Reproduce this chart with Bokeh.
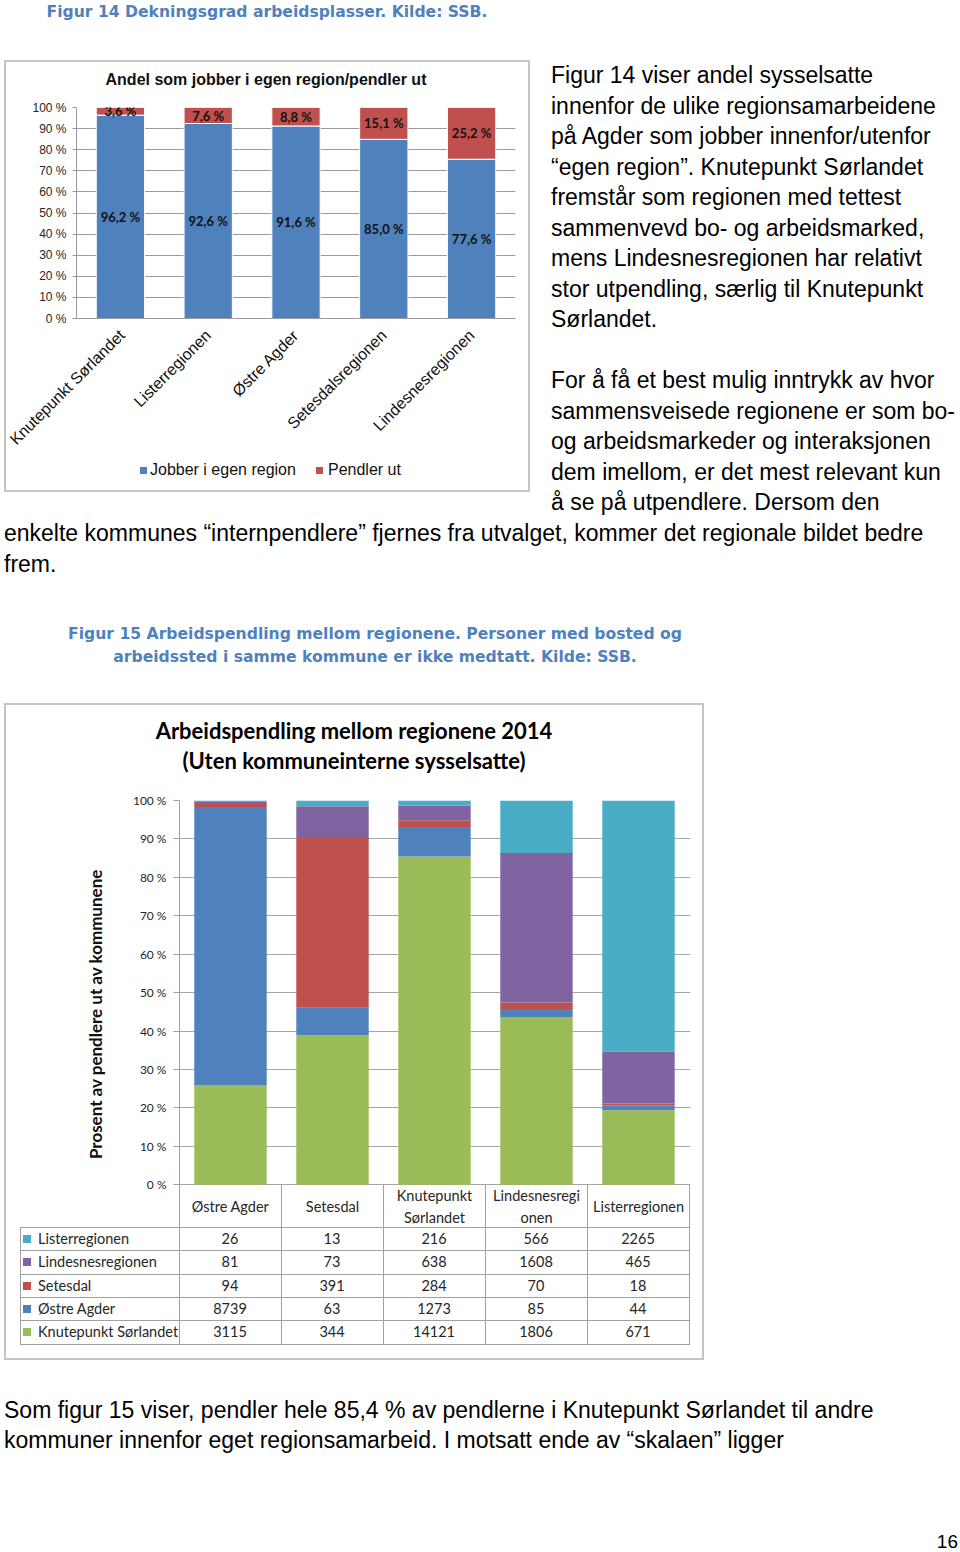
import math
from bokeh.plotting import figure
from bokeh.models import (ColumnDataSource, FactorRange, Range1d, FixedTicker,
                          PrintfTickFormatter, Div)
from bokeh.layouts import column, row
from bokeh.core.properties import value
from bokeh.embed import file_html
from bokeh.resources import INLINE

# ---------------- Figur 14 data ----------------
regions14 = ["Knutepunkt Sørlandet", "Listerregionen", "Østre Agder",
             "Setesdalsregionen", "Lindesnesregionen"]
jobber_i_egen_region = [96.2, 92.6, 91.6, 85.0, 77.6]
pendler_ut = [3.6, 7.6, 8.8, 15.1, 25.2]
series14 = ["Jobber i egen region", "Pendler ut"]
pct_ticks = list(range(0, 101, 10))

# ---------------- Figur 15 data ----------------
bosted_regions = ["Østre Agder", "Setesdal", "Knutepunkt Sørlandet",
                  "Lindesnesregionen", "Listerregionen"]
bosted_header = ["Østre Agder", "Setesdal", "Knutepunkt\nSørlandet",
                 "Lindesnesregi\nonen", "Listerregionen"]
til_listerregionen = [26, 13, 216, 566, 2265]
til_lindesnesregionen = [81, 73, 638, 1608, 465]
til_setesdal = [94, 391, 284, 70, 18]
til_ostre_agder = [8739, 63, 1273, 85, 44]
til_knutepunkt = [3115, 344, 14121, 1806, 671]
table_rows = ["Listerregionen", "Lindesnesregionen", "Setesdal",
              "Østre Agder", "Knutepunkt Sørlandet"]

# ---------------- page text ----------------
cap14 = "Figur 14 Dekningsgrad arbeidsplasser. Kilde: SSB."
cap15 = ["Figur 15 Arbeidspendling mellom regionene. Personer med bosted og",
         "arbeidssted i samme kommune er ikke medtatt. Kilde: SSB."]
title14 = "Andel som jobber i egen region/pendler ut"
title15 = ["Arbeidspendling mellom regionene 2014", "(Uten kommuneinterne sysselsatte)"]
ylabel15 = "Prosent av pendlere ut av kommunene"
right_lines = ["Figur 14 viser andel sysselsatte",
               "innenfor de ulike regionsamarbeidene",
               "på Agder som jobber innenfor/utenfor",
               "“egen region”. Knutepunkt Sørlandet",
               "fremstår som regionen med tettest",
               "sammenvevd bo- og arbeidsmarked,",
               "mens Lindesnesregionen har relativt",
               "stor utpendling, særlig til Knutepunkt",
               "Sørlandet.",
               "&nbsp;",
               "For å få et best mulig inntrykk av hvor",
               "sammensveisede regionene er som bo-",
               "og arbeidsmarkeder og interaksjonen",
               "dem imellom, er det mest relevant kun",
               "å se på utpendlere. Dersom den"]
full_lines = ["enkelte kommunes “internpendlere” fjernes fra utvalget, kommer det regionale bildet bedre",
              "frem."]
bottom_lines = ["Som figur 15 viser, pendler hele 85,4 % av pendlerne i Knutepunkt Sørlandet til andre",
                "kommuner innenfor eget regionsamarbeid. I motsatt ende av “skalaen” ligger"]
page_number = "16"

# ---------------- styles ----------------
ARIAL = "Liberation Sans"
CALIBRI = "Lato"
BLUE, RED, GREEN, PURPLE, CYAN = "#4F81BD", "#C0504D", "#9BBB59", "#8064A2", "#4BACC6"
CAPTION = "#4F81BD"
GRID1 = "#9a9a9a"
GRID2 = "#a6a6a6"
TLINE = "#a0a0a0"
BOX = "#c4c4c4"
TXT = "#262626"


def plain_div(html, w, h):
    return Div(text=html, width=w, height=h, margin=0)


def bar_div(w, h):
    return Div(text="", width=w, height=h, margin=0,
               styles={"background-color": BOX})


# ================= Figur 14 chart =================
tot14 = [a + b for a, b in zip(jobber_i_egen_region, pendler_ut)]
egen_pct = [100 * a / t for a, t in zip(jobber_i_egen_region, tot14)]
pend_pct = [100 * b / t for b, t in zip(pendler_ut, tot14)]
src1 = ColumnDataSource(dict(
    region=regions14, egen=egen_pct, pend=pend_pct,
    egen_mid=[e / 2 for e in egen_pct],
    pend_mid=[e + p / 2 for e, p in zip(egen_pct, pend_pct)],
    egen_lbl=[f"{v:.1f} %".replace(".", ",") for v in jobber_i_egen_region],
    pend_lbl=[f"{v:.1f} %".replace(".", ",") for v in pendler_ut],
))

p1 = figure(width=522, height=361, x_range=FactorRange(factors=regions14),
            y_range=Range1d(0, 100), output_backend="svg", toolbar_location=None,
            min_border_left=70, min_border_right=13, min_border_top=10,
            min_border_bottom=140)
p1.outline_line_color = None
rs1 = p1.vbar_stack(["egen", "pend"], x="region", width=0.55, color=[BLUE, RED],
                    line_color="white", line_width=1, source=src1)
for ycol, tcol in (("egen_mid", "egen_lbl"), ("pend_mid", "pend_lbl")):
    p1.text(x="region", y=ycol, text=tcol, source=src1, text_align="center",
            text_baseline="middle", text_font=value(CALIBRI), text_font_style="bold",
            text_font_size="13px", text_color="#111111")

p1.xgrid.grid_line_color = None
p1.ygrid.ticker = FixedTicker(ticks=pct_ticks)
p1.ygrid.grid_line_color = GRID1
p1.yaxis.ticker = FixedTicker(ticks=pct_ticks)
p1.yaxis.formatter = PrintfTickFormatter(format="%d %%")
p1.yaxis.axis_line_color = GRID1
p1.yaxis.major_tick_line_color = GRID1
p1.yaxis.major_tick_out = 4
p1.yaxis.major_tick_in = 0
p1.yaxis.minor_tick_line_color = None
p1.yaxis.major_label_standoff = 6
p1.yaxis.major_label_text_font = ARIAL
p1.yaxis.major_label_text_font_size = "12px"
p1.yaxis.major_label_text_color = TXT
p1.xaxis.axis_line_color = GRID1
p1.xaxis.major_tick_line_color = None
p1.xaxis.major_label_orientation = math.pi / 4
p1.xaxis.major_label_standoff = 8
p1.xaxis.major_label_text_font = ARIAL
p1.xaxis.major_label_text_font_size = "16px"
p1.xaxis.major_label_text_color = "#111111"

# legend row of the chart (below the rotated category labels)
leg_colors = [BLUE, RED]
leg_sq_x = [134, 310]      # inside the chart box
leg_txt_x = [144, 322]
leg_parts = ['<div style="position:relative;width:522px;height:32px">']
for lbl, col, sx, tx in zip(series14, leg_colors, leg_sq_x, leg_txt_x):
    leg_parts.append(f'<div style="position:absolute;left:{sx}px;top:8.5px;width:7px;height:7px;'
                     f'background:{col}"></div>')
    leg_parts.append(f'<div style="position:absolute;left:{tx}px;top:0px;line-height:24px;'
                     f'font-family:{ARIAL};font-size:16px;color:#111;white-space:nowrap">{lbl}</div>')
leg_parts.append("</div>")
legend1_div = plain_div("".join(leg_parts), 522, 32)

title1_div = plain_div(
    f'<div style="width:520px;text-align:center;font-family:{ARIAL};font-weight:bold;'
    f'font-size:16px;line-height:18px;padding-top:9px;color:#111;white-space:nowrap">{title14}</div>',
    522, 35)
inner1 = column(title1_div, p1, legend1_div, spacing=0)
box1 = column(bar_div(526, 2),
              row(bar_div(2, 428), inner1, bar_div(2, 428), spacing=0),
              bar_div(526, 2), spacing=0)

# ================= Figur 15 chart =================
stack_cols = ["knutepunkt", "ostre", "setesdal", "lindesnes", "lister"]
stack_vals = [til_knutepunkt, til_ostre_agder, til_setesdal,
              til_lindesnesregionen, til_listerregionen]
stack_colors = [GREEN, BLUE, RED, PURPLE, CYAN]
tot15 = [sum(v[i] for v in stack_vals) for i in range(len(bosted_regions))]
data2 = {"x": [i + 0.5 for i in range(len(bosted_regions))]}
for name, vals in zip(stack_cols, stack_vals):
    data2[name] = [100 * v / t for v, t in zip(vals, tot15)]
src2 = ColumnDataSource(data2)

HEAD = 100 / 9  # header row height in % units (about 42.7 px)
n15 = len(bosted_regions)
p2 = figure(width=696, height=442, x_range=Range1d(0, n15 + 0.01),
            y_range=Range1d(-HEAD, 100), output_backend="svg", toolbar_location=None,
            x_axis_location=None, min_border_left=173, min_border_right=12,
            min_border_top=15, min_border_bottom=0)
p2.outline_line_color = None
p2.vbar_stack(stack_cols, x="x", width=0.71, color=stack_colors,
              line_color=None, source=src2)
p2.xgrid.grid_line_color = None
p2.ygrid.ticker = FixedTicker(ticks=pct_ticks)
p2.ygrid.grid_line_color = GRID2
p2.yaxis.ticker = FixedTicker(ticks=pct_ticks)
p2.yaxis.bounds = (-HEAD, 100)
p2.yaxis.formatter = PrintfTickFormatter(format="%d %%")
p2.yaxis.axis_line_color = TLINE
p2.yaxis.major_tick_line_color = TLINE
p2.yaxis.major_tick_out = 6
p2.yaxis.major_tick_in = 0
p2.yaxis.minor_tick_line_color = None
p2.yaxis.major_label_standoff = 7
p2.yaxis.major_label_text_font = CALIBRI
p2.yaxis.major_label_text_font_size = "12px"
p2.yaxis.major_label_text_color = TXT
p2.yaxis.axis_label = ylabel15
p2.yaxis.axis_label_text_font = CALIBRI
p2.yaxis.axis_label_text_font_style = "bold"
p2.yaxis.axis_label_text_font_size = "17px"
p2.yaxis.axis_label_text_color = "#111111"
p2.yaxis.axis_label_standoff = 24

# header cells of the data table (below the 0 % line)
bounds15 = list(range(n15 + 1))
p2.segment(x0=bounds15, y0=[0] * len(bounds15), x1=bounds15,
           y1=[-HEAD] * len(bounds15), line_color=TLINE, line_width=1)
p2.text(x=[i + 0.5 for i in range(n15)], y=[-HEAD / 2] * n15, text=bosted_header,
        text_align="center", text_baseline="middle", text_font=value(CALIBRI),
        text_font_size="14.5px", text_color=TXT, text_line_height=1.3)

title2_div = plain_div(
    f'<div style="width:696px;text-align:center;font-family:{CALIBRI};font-weight:bold;'
    f'font-size:22px;line-height:30px;padding-top:11px;color:#000;white-space:nowrap">'
    f'{title15[0]}<br>{title15[1]}</div>', 696, 80)

# data table rows (HTML, positioned on the same column grid as the bars)
ROW_PX = 23.33
COL_PX = 102.0
TAB_H = 131
FRAME_L = 173          # x of the chart frame inside the box
TAB_L = 14             # left edge of the row-label column inside the box
SQ_L = 17
TXT_L = 32
nrows = len(table_rows)
table_vals = [til_listerregionen, til_lindesnesregionen, til_setesdal,
              til_ostre_agder, til_knutepunkt]
table_colors = [CYAN, PURPLE, RED, BLUE, GREEN]
cell_font = f"font-family:{CALIBRI};font-size:14.5px;color:{TXT};white-space:nowrap"
parts = [f'<div style="position:relative;width:696px;height:{TAB_H}px">']
tab_w = FRAME_L + n15 * COL_PX - TAB_L + 1
for k in range(nrows + 1):
    parts.append(f'<div style="position:absolute;left:{TAB_L}px;top:{k * ROW_PX:.2f}px;'
                 f'width:{tab_w:.0f}px;height:1px;background:{TLINE}"></div>')
for x in [TAB_L] + [FRAME_L + c * COL_PX for c in range(n15 + 1)]:
    parts.append(f'<div style="position:absolute;left:{x:.0f}px;top:0px;width:1px;'
                 f'height:{nrows * ROW_PX + 1:.1f}px;background:{TLINE}"></div>')
for r, (name, col, vals) in enumerate(zip(table_rows, table_colors, table_vals)):
    top = r * ROW_PX
    parts.append(f'<div style="position:absolute;left:{SQ_L}px;top:{top + ROW_PX / 2 - 3.5:.2f}px;'
                 f'width:8px;height:8px;background:{col}"></div>')
    parts.append(f'<div style="position:absolute;left:{TXT_L}px;top:{top:.2f}px;'
                 f'height:{ROW_PX}px;line-height:{ROW_PX + 1}px;{cell_font}">{name}</div>')
    for c, v in enumerate(vals):
        parts.append(f'<div style="position:absolute;left:{FRAME_L + c * COL_PX:.0f}px;top:{top:.2f}px;'
                     f'width:{COL_PX:.0f}px;height:{ROW_PX}px;line-height:{ROW_PX + 1}px;'
                     f'text-align:center;{cell_font}">{v}</div>')
parts.append("</div>")
table_div = plain_div("".join(parts), 696, TAB_H)

inner2 = column(title2_div, p2, table_div, spacing=0)
box2 = column(bar_div(700, 2),
              row(bar_div(2, 653), inner2, bar_div(2, 653), spacing=0),
              bar_div(700, 2), spacing=0)

# ================= page text blocks =================
BODY = f"font-family:{ARIAL};font-size:23px;line-height:30.5px;color:#000;white-space:nowrap"
cap14_div = plain_div(
    f'<div style="width:526px;text-align:center;font-family:DejaVu Sans;font-weight:bold;'
    f'font-size:15.6px;line-height:25px;color:{CAPTION};white-space:nowrap">{cap14}</div>',
    526, 60)
right_div = plain_div(f'<div style="{BODY}">' + "<br>".join(right_lines) + "</div>", 400, 458)
top_row = row(box1, plain_div("", 21, 10), right_div, spacing=0)
full_div = plain_div(f'<div style="{BODY}">' + "<br>".join(full_lines) + "</div>", 947, 61)
cap15_div = plain_div(
    f'<div style="width:742px;text-align:center;font-family:DejaVu Sans;font-weight:bold;'
    f'font-size:15.6px;line-height:23px;padding-top:43.5px;color:{CAPTION};white-space:nowrap">'
    + "<br>".join(cap15) + "</div>", 742, 124)
bottom_div = plain_div(f'<div style="{BODY};padding-top:34.75px">' + "<br>".join(bottom_lines)
                       + "</div>", 947, 96)
pnum_div = plain_div(
    f'<div style="width:954px;text-align:right;font-family:{ARIAL};font-size:19px;'
    f'line-height:20px;padding-top:76px;color:#000">{page_number}</div>', 956, 96)

content = column(cap14_div, top_row, full_div, cap15_div, box2, bottom_div, pnum_div,
                 spacing=0)
page = row(plain_div("", 4, 10), content, spacing=0)

open("out.html", "w").write(file_html(page, INLINE))
